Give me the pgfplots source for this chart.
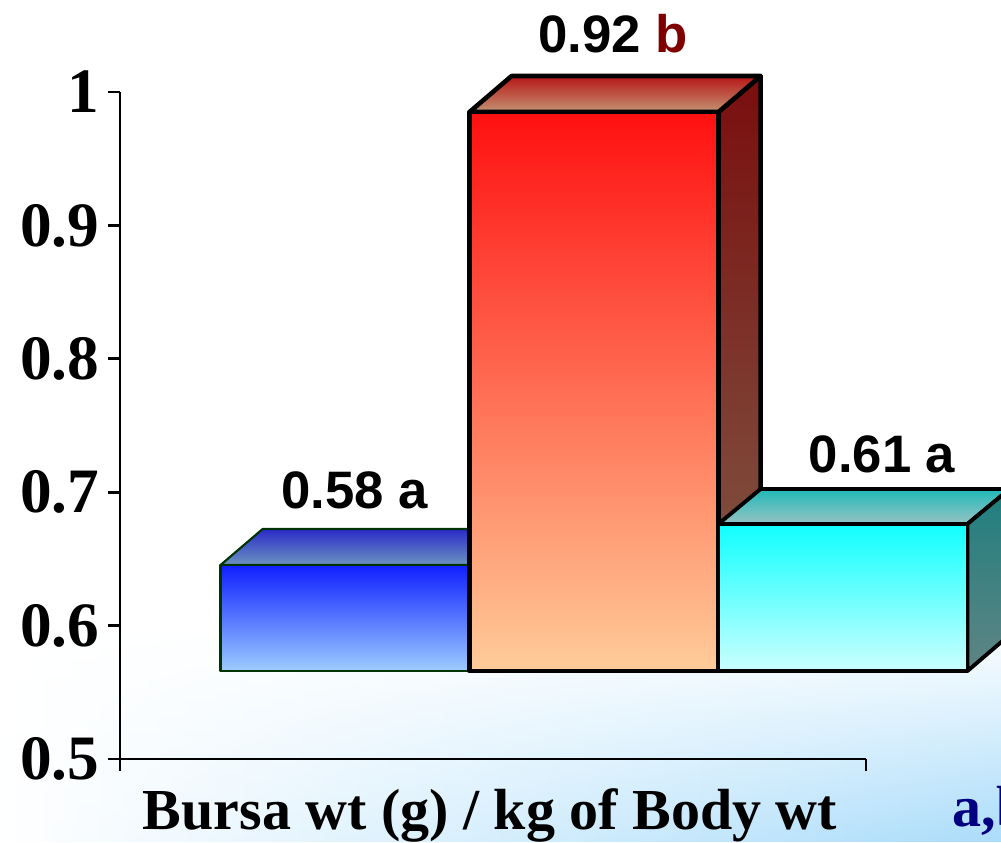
\documentclass[border=0pt]{standalone}
\usepackage{pgfplots}
\pgfplotsset{compat=1.18}
\usepackage{fontspec}
\setmainfont{Liberation Serif}
\newfontfamily\sansf{Liberation Sans}
\usetikzlibrary{fadings}

\definecolor{bluetop}{HTML}{1020FF}
\definecolor{bluebot}{HTML}{9CCCFF}
\definecolor{bluecapB}{HTML}{2A2AC8}
\definecolor{bluecapF}{HTML}{6C94C0}
\definecolor{blueline}{HTML}{003300}
\definecolor{redtop}{HTML}{FF1010}
\definecolor{redbot}{HTML}{FFCC99}
\definecolor{redcapB}{HTML}{B81616}
\definecolor{redcapF}{HTML}{C29472}
\definecolor{redsideT}{HTML}{7A0E0E}
\definecolor{redsideB}{HTML}{80604A}
\definecolor{cyantop}{HTML}{10FFFF}
\definecolor{cyanbot}{HTML}{CCFFFF}
\definecolor{cyancapB}{HTML}{20B8B8}
\definecolor{cyancapF}{HTML}{98C4C4}
\definecolor{cyansideT}{HTML}{1F7F7F}
\definecolor{cyansideB}{HTML}{608484}
\definecolor{bgblue}{HTML}{AADCFA}
\definecolor{navy}{HTML}{000080}
\definecolor{darkred}{HTML}{800000}

\begin{document}
\begin{tikzpicture}[line join=round]
\clip (0,0) rectangle (10.01cm,8.42cm);
\shade[left color=white, right color=bgblue, path fading=north] (0,0) rectangle (10.01cm,2.2cm);
\begin{axis}[
  at={(1.20cm,0.83cm)}, anchor=south west,
  scale only axis, width=7.46cm, height=6.67cm,
  xmin=0.0964, xmax=3.0924, ymin=0.5, ymax=1,
  axis lines*=left,
  axis line style={line width=0.8pt, black},
  clip=false,
  xtick={0.0964,3.0924}, xticklabels={},
  ytick={0.5,0.6,0.7,0.8,0.9,1},
  tick align=outside, major tick length=0.12cm,
  tick style={line width=0.8pt, black},
  /pgf/number format/assume math mode=true,
  yticklabel style={font=\fontsize{18}{20}\selectfont\bfseries, xshift=1pt},
  xlabel={Bursa wt (g) / kg of Body wt},
  xlabel style={font=\fontsize{16.5}{18}\selectfont\bfseries,
    at={(axis description cs:0.496,0)}, anchor=base, yshift=-0.70cm},
]
% blue bar (0.58)
\addplot[forget plot, draw=blueline, line width=0.6pt, top color=bluecapB, bottom color=bluecapF]
  coordinates {(0.5,0.6454) (0.669,0.6724) (1.669,0.6724) (1.5,0.6454)} -- cycle;
\addplot[forget plot, draw=blueline, line width=0.6pt, top color=bluetop, bottom color=bluebot]
  coordinates {(0.5,0.566) (1.5,0.566) (1.5,0.6454) (0.5,0.6454)} -- cycle;
% red bar (0.92)
\addplot[forget plot, draw=black, line width=1.3pt, top color=redsideT, bottom color=redsideB]
  coordinates {(2.5,0.985) (2.669,1.012) (2.669,0.593) (2.5,0.566)} -- cycle;
\addplot[forget plot, draw=black, line width=1.3pt, top color=redcapB, bottom color=redcapF]
  coordinates {(1.5,0.985) (1.669,1.012) (2.669,1.012) (2.5,0.985)} -- cycle;
\addplot[forget plot, draw=black, line width=1.3pt, top color=redtop, bottom color=redbot]
  coordinates {(1.5,0.566) (2.5,0.566) (2.5,0.985) (1.5,0.985)} -- cycle;
% cyan bar (0.61)
\addplot[forget plot, draw=black, line width=1.1pt, top color=cyancapB, bottom color=cyancapF]
  coordinates {(2.5,0.6762) (2.669,0.7024) (3.669,0.7024) (3.5,0.6762)} -- cycle;
\addplot[forget plot, draw=black, line width=1.1pt, top color=cyansideT, bottom color=cyansideB]
  coordinates {(3.5,0.6762) (3.669,0.7024) (3.669,0.593) (3.5,0.566)} -- cycle;
\addplot[forget plot, draw=black, line width=1.1pt, top color=cyantop, bottom color=cyanbot]
  coordinates {(2.5,0.566) (3.5,0.566) (3.5,0.6762) (2.5,0.6762)} -- cycle;
% value labels
\node[anchor=base, font=\fontsize{15}{18}\selectfont\sansf\bfseries] at (axis cs:1.04,0.688) {0.58 a};
\node[anchor=base, font=\fontsize{15}{18}\selectfont\sansf\bfseries] at (axis cs:2.076,1.030) {0.92 \textcolor{darkred}{b}};
\node[anchor=base, font=\fontsize{15}{18}\selectfont\sansf\bfseries] at (axis cs:3.157,0.715) {0.61 a};
\end{axis}
\node[anchor=base west, inner sep=0pt, font=\fontsize{16.5}{18}\selectfont\bfseries, text=navy] at (9.52cm,0.16cm) {a,b Means};
\end{tikzpicture}
\end{document}
